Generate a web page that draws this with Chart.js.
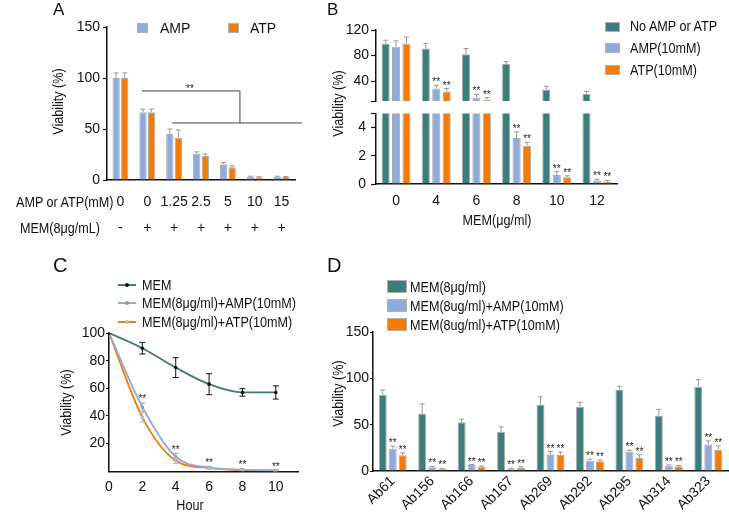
<!DOCTYPE html>
<html lang="en">
<head>
<meta charset="UTF-8">
<title>Viability panels A-D</title>
<script src="https://cdn.jsdelivr.net/npm/chart.js"></script>
<style>
  body { margin: 0; background: #fff; }
  #fig { position: relative; width: 729px; height: 512px; overflow: hidden; background: #fff;
         font-family: 'Liberation Sans', Arial, sans-serif; color: #111; }
  #fig canvas { position: absolute; }
  /* the figure text is narrow, squeeze it a bit */
  .t { position: absolute; white-space: nowrap; line-height: 1; font-size: 15px;
       transform: scaleX(0.84); transform-origin: left center; }
  .t.r { transform-origin: right center; }
  .t.c { transform-origin: center center; }
  .letter { transform: none; }
  .sq { position: absolute; box-sizing: border-box; border: 1px solid #b0b0b0; }
  .t.rot { transform: rotate(-90deg) scaleX(0.84); transform-origin: center center; text-align: center; width: 100px; }
  .ln { position: absolute; height: 2px; }
  .dot { position: absolute; width: 4px; height: 4px; border-radius: 50%; }
</style>
</head>
<body>
<div id="fig">
  <canvas id="cA" width="310" height="245" style="left:0;top:0"></canvas>
  <canvas id="cB1" width="399" height="112" style="left:330px;top:0"></canvas>
  <canvas id="cB2" width="399" height="135" style="left:330px;top:100px"></canvas>
  <canvas id="cC" width="330" height="262" style="left:0;top:250px"></canvas>
  <canvas id="cD" width="399" height="262" style="left:330px;top:250px"></canvas>

  <!-- panel A text -->
  <div class="t letter" style="left:53px;top:1px;font-size:17px">A</div>
  <div class="sq" style="left:137px;top:23px;width:11px;height:10px;background:#8faadc"></div>
  <div class="t" style="left:160px;top:21px;font-size:14px;transform:none">AMP</div>
  <div class="sq" style="left:228px;top:23px;width:11px;height:10px;background:#f47b06"></div>
  <div class="t" style="left:250px;top:21px;font-size:14px;transform:none">ATP</div>
  <div class="t rot" style="left:7px;top:94px">Viability (%)</div>
  <div class="t r" style="left:0;top:194px;width:100px;text-align:right">AMP or ATP(mM)</div>
  <div class="t r" style="left:0;top:220px;width:100px;text-align:right">MEM(8μg/mL)</div>

  <!-- panel B text -->
  <div class="t letter" style="left:327px;top:1px;font-size:17px">B</div>
  <div class="sq" style="left:605px;top:22px;width:15px;height:10px;background:#3e7e7a"></div>
  <div class="t" style="left:630px;top:18px">No AMP or ATP</div>
  <div class="sq" style="left:605px;top:43px;width:15px;height:10px;background:#8faadc"></div>
  <div class="t" style="left:630px;top:40px">AMP(10mM)</div>
  <div class="sq" style="left:605px;top:65px;width:15px;height:10px;background:#f47b06"></div>
  <div class="t" style="left:630px;top:62px">ATP(10mM)</div>
  <div class="t rot" style="left:287px;top:96px">Viability (%)</div>
  <div class="t c" style="left:447px;top:212px;width:100px;text-align:center">MEM(μg/ml)</div>

  <!-- panel C text -->
  <div class="t letter" style="left:53px;top:255px;font-size:20px">C</div>
  <div class="ln" style="left:118px;top:284px;width:18px;background:#3e7e7a"></div>
  <div class="dot" style="left:125px;top:283px;background:#111"></div>
  <div class="t" style="left:142px;top:277px">MEM</div>
  <div class="ln" style="left:118px;top:302px;width:18px;background:#8faadc"></div>
  <div class="dot" style="left:125px;top:301px;background:#999"></div>
  <div class="t" style="left:142px;top:295px">MEM(8μg/ml)+AMP(10mM)</div>
  <div class="ln" style="left:118px;top:321px;width:18px;background:#f47b06"></div>
  <div class="dot" style="left:125px;top:320px;background:#bbb"></div>
  <div class="t" style="left:142px;top:314px">MEM(8μg/ml)+ATP(10mM)</div>
  <div class="t rot" style="left:15px;top:395px">Viability (%)</div>
  <div class="t c" style="left:160px;top:497px;width:60px;text-align:center">Hour</div>

  <!-- panel D text -->
  <div class="t letter" style="left:327px;top:255px;font-size:20px">D</div>
  <div class="sq" style="left:387px;top:280px;width:20px;height:13px;background:#3e7e7a"></div>
  <div class="t" style="left:410px;top:279px">MEM(8μg/ml)</div>
  <div class="sq" style="left:387px;top:299px;width:20px;height:13px;background:#8faadc"></div>
  <div class="t" style="left:410px;top:298px">MEM(8ug/ml)+AMP(10mM)</div>
  <div class="sq" style="left:387px;top:318px;width:20px;height:13px;background:#f47b06"></div>
  <div class="t" style="left:410px;top:317px">MEM(8ug/ml)+ATP(10mM)</div>
  <div class="t rot" style="left:287px;top:386px">Viability (%)</div>
</div>

<script>
// ---- panel A data ----
const aDose = ['0', '0', '1.25', '2.5', '5', '10', '15'];
const aMem = ['-', '+', '+', '+', '+', '+', '+'];
const aAmp = [100, 66.5, 45, 26, 15.5, 3.2, 3.2];
const aAmpErr = [5, 3, 5, 1.6, 1.6, 0.5, 0.5];
const aAtp = [100, 66.5, 41.5, 23.5, 12.5, 2.7, 2.9];
const aAtpErr = [5, 3, 7.5, 2, 1.3, 0.5, 0.5];
const aYTicks = [0, 50, 100, 150];

// ---- panel B data ----
const bDose = ['0', '4', '6', '8', '10', '12'];
const bNone = [99, 91, 82, 67, 27, 20];
const bNoneErr = [5, 8, 9, 3.5, 5, 4];
const bAmp = [94, 28.5, 14.5, 3.26, 0.64, 0.24];
const bAmpErr = [9, 5, 5, 0.43, 0.24, 0.09];
const bAtp = [99, 24, 11, 2.71, 0.48, 0.17];
const bAtpErr = [10, 4.5, 3, 0.24, 0.1, 0.09];
const bStars = [0, 1, 1, 1, 1, 1];
const bUpperTicks = [40, 80, 120];
const bLowerTicks = [0, 2, 4];
const bUpperMin = 9, bLowerMax = 5;

// ---- panel C data ----
const cHours = [0, 2, 4, 6, 8, 10];
const cMem = [100, 89, 75, 63, 57, 57];
const cMemErr = [0, 4.2, 7.2, 7.6, 2.7, 4.8];
const cAmp = [100, 46.5, 10.5, 2.8, 1.2, 0.6];
const cAmpErr = [0, 3, 2.5, 0.8, 0.5, 0.3];
const cAtp = [100, 39, 7.7, 2.3, 0.8, 0.4];
const cAtpErr = [0, 3.5, 2, 0.7, 0.4, 0.2];
const cStars = [0, 1, 1, 1, 1, 1];
const cXTicks = [0, 2, 4, 6, 8, 10];
const cYTicks = [20, 40, 60, 80, 100];

// ---- panel D data ----
const dStrains = ['Ab61', 'Ab156', 'Ab166', 'Ab167', 'Ab269', 'Ab292', 'Ab295', 'Ab314', 'Ab323'];
const dMem = [82, 62, 52.5, 42, 71.5, 69, 88, 60, 91];
const dMemErr = [5.5, 10.5, 3.5, 5.5, 8.5, 5, 3.5, 6.5, 7.5];
const dAmp = [24, 4, 6.5, 2.5, 18, 11, 21, 5.8, 28.5];
const dAmpErr = [3, 1, 0.5, 0.5, 3, 1.8, 1.5, 0.8, 4];
const dAtp = [17, 2.5, 4.5, 3.5, 17.5, 10.5, 14, 5, 23];
const dAtpErr = [2.5, 0.5, 1, 1, 3, 1.5, 3.5, 1, 4];
const dStars = [1, 1, 1, 1, 1, 1, 1, 1, 1];
const dYTicks = [0, 50, 100, 150];

const TEAL = '#3e7e7a', BLUE = '#8faadc', ORANGE = '#f47b06';

Chart.defaults.font.family = "'Liberation Sans', Arial, sans-serif";
Chart.defaults.font.size = 14;
Chart.defaults.color = '#111';
Chart.defaults.animation = false;
Chart.defaults.responsive = false;
Chart.defaults.devicePixelRatio = 1;
Chart.defaults.plugins.legend.display = false;
Chart.defaults.plugins.tooltip.enabled = false;

// error bars + significance stars, read from dataset.errors / dataset.stars
const errorBars = {
  id: 'errorBars',
  afterDatasetsDraw(chart, args, opts) {
    const { ctx, chartArea: area, scales: { y } } = chart;
    ctx.save();
    ctx.beginPath();
    ctx.rect(area.left - 6, area.top - 25, area.right - area.left + 12, area.bottom - area.top + 25);
    ctx.clip();
    chart.data.datasets.forEach((ds, di) => {
      if (!ds.errors) return;
      chart.getDatasetMeta(di).data.forEach((el, i) => {
        const raw = ds.data[i];
        const v = typeof raw === 'object' ? raw.y : raw;
        const e = ds.errors[i];
        if (v < y.min || v > y.max) return;
        const top = y.getPixelForValue(v + e);
        const bot = ds.errBoth ? y.getPixelForValue(v - e) : el.y;
        const cw = ds.capHalf || 2.5;
        if (e > 0) {
          ctx.strokeStyle = ds.errColor || '#999';
          ctx.lineWidth = 1;
          ctx.beginPath();
          ctx.moveTo(el.x, top); ctx.lineTo(el.x, bot);
          ctx.moveTo(el.x - cw, top); ctx.lineTo(el.x + cw, top);
          if (ds.errBoth) { ctx.moveTo(el.x - cw, bot); ctx.lineTo(el.x + cw, bot); }
          ctx.stroke();
        }
        if (ds.stars && ds.stars[i]) {
          ctx.fillStyle = '#222';
          ctx.font = "10px 'Liberation Sans', sans-serif";
          ctx.textAlign = 'center';
          ctx.textBaseline = 'alphabetic';
          ctx.fillText('**', el.x, top + (opts.starShift || 0));
        }
      });
    });
    ctx.restore();
  }
};

// bracket lines of panel A, given in category index / value units
const sigLines = {
  id: 'sigLines',
  afterDatasetsDraw(chart, args, opts) {
    if (!opts.segments) return;
    const { ctx, scales: { x, y } } = chart;
    ctx.save();
    ctx.strokeStyle = '#444';
    ctx.lineWidth = 1;
    ctx.beginPath();
    opts.segments.forEach(s => {
      ctx.moveTo(x.getPixelForValue(s[0]), y.getPixelForValue(s[1]));
      ctx.lineTo(x.getPixelForValue(s[2]), y.getPixelForValue(s[3]));
    });
    ctx.stroke();
    ctx.fillStyle = '#222';
    ctx.font = "10px 'Liberation Sans', sans-serif";
    ctx.textAlign = 'center';
    ctx.textBaseline = 'alphabetic';
    ctx.fillText('**', x.getPixelForValue(opts.star[0]), y.getPixelForValue(opts.star[1]) + 1);
    ctx.restore();
  }
};

function yAxis(min, max, ticks, width, tickLen, pad, blank) {
  return {
    min: min, max: max,
    afterBuildTicks: s => { s.ticks = ticks.map(v => ({ value: v })); },
    afterFit: s => { s.width = width; },
    ticks: { padding: pad, font: { size: 14 }, callback: v => (blank !== undefined && v === blank) ? '' : String(v) },
    grid: { drawOnChartArea: false, tickLength: tickLen, color: '#111', tickWidth: 1.2 },
    border: { color: '#111', width: 1.5 }
  };
}

function bar(label, data, errors, color, stars) {
  return {
    label: label, data: data, errors: errors, stars: stars,
    backgroundColor: color, borderColor: '#ababab', borderWidth: 1,
    errColor: '#999'
  };
}

// ---- A ----
new Chart(document.getElementById('cA'), {
  type: 'bar',
  data: {
    labels: aDose.map((d, i) => [d, aMem[i]]),
    datasets: [
      Object.assign(bar('AMP', aAmp, aAmpErr, BLUE), { categoryPercentage: 0.64, barPercentage: 0.85 }),
      Object.assign(bar('ATP', aAtp, aAtpErr, ORANGE), { categoryPercentage: 0.64, barPercentage: 0.85 })
    ]
  },
  options: {
    layout: { padding: { top: 27, right: 15, left: 0, bottom: 0 } },
    scales: {
      x: {
        afterFit: s => { s.height = 65; },
        ticks: { padding: 9, autoSkip: false, maxRotation: 0, font: { size: 14, lineHeight: '26px' } },
        grid: { drawOnChartArea: false, drawTicks: false },
        border: { color: '#111', width: 1.5 }
      },
      y: yAxis(0, 150, aYTicks, 107, 4, 3)
    },
    plugins: {
      sigLines: {
        segments: [[0.8, 87.3, 4.45, 87.3], [4.45, 87.3, 4.45, 55.9], [1.92, 55.9, 6.76, 55.9]],
        star: [2.59, 87.3]
      }
    }
  },
  plugins: [errorBars, sigLines]
});

// ---- B (broken axis: upper + lower) ----
function bSets() {
  const o = { categoryPercentage: 0.78, barPercentage: 0.78 };
  return [
    Object.assign(bar('No AMP or ATP', bNone, bNoneErr, TEAL), o),
    Object.assign(bar('AMP(10mM)', bAmp, bAmpErr, BLUE, bStars), o),
    Object.assign(bar('ATP(10mM)', bAtp, bAtpErr, ORANGE, bStars), o)
  ];
}

new Chart(document.getElementById('cB1'), {
  type: 'bar',
  data: { labels: bDose, datasets: bSets() },
  options: {
    layout: { padding: { top: 30, right: 112, left: 0, bottom: 11 } },
    scales: {
      x: { display: false },
      y: yAxis(bUpperMin, 120, [bUpperMin].concat(bUpperTicks), 46, 5, 2, bUpperMin)
    }
  },
  plugins: [errorBars]
});

new Chart(document.getElementById('cB2'), {
  type: 'bar',
  data: { labels: bDose, datasets: bSets() },
  options: {
    layout: { padding: { top: 13, right: 112, left: 0, bottom: 0 } },
    scales: {
      x: {
        afterFit: s => { s.height = 51; },
        ticks: { padding: 9, maxRotation: 0, font: { size: 14 } },
        grid: { drawOnChartArea: false, drawTicks: false },
        border: { color: '#111', width: 1.5 }
      },
      y: yAxis(0, bLowerMax, bLowerTicks.concat([bLowerMax]), 46, 5, 5, bLowerMax)
    }
  },
  plugins: [errorBars]
});

// ---- C ----
function pts(ys) { return ys.map((v, i) => ({ x: cHours[i], y: v })); }
function line(label, ys, errs, color, ptColor, errColor, stars) {
  return {
    label: label, data: pts(ys), errors: errs, errBoth: true, stars: stars,
    borderColor: color, borderWidth: 1.8, cubicInterpolationMode: 'monotone',
    pointRadius: 1.8, pointBackgroundColor: ptColor, pointBorderColor: ptColor, pointBorderWidth: 0,
    errColor: errColor, capHalf: 3, fill: false
  };
}
new Chart(document.getElementById('cC'), {
  type: 'line',
  data: {
    datasets: [
      line('MEM', cMem, cMemErr, TEAL, '#111', '#111'),
      line('MEM(8μg/ml)+AMP(10mM)', cAmp, cAmpErr, BLUE, '#999', '#aaa', cStars),
      line('MEM(8μg/ml)+ATP(10mM)', cAtp, cAtpErr, ORANGE, '#bbb', '#bbb')
    ]
  },
  options: {
    layout: { padding: { top: 83, right: 32, left: 0, bottom: 0 } },
    scales: {
      x: {
        type: 'linear', min: 0, max: 11.33,
        afterBuildTicks: s => { s.ticks = cXTicks.map(v => ({ value: v })); },
        afterFit: s => { s.height = 40.7; },
        ticks: { padding: 7, maxRotation: 0, font: { size: 14 } },
        grid: { drawOnChartArea: false, drawTicks: false },
        border: { color: '#111', width: 1.5 }
      },
      y: yAxis(0, 100, cYTicks, 109, 3, 1)
    },
    plugins: { errorBars: { starShift: -0.5 } }
  },
  plugins: [errorBars]
});

// ---- D ----
new Chart(document.getElementById('cD'), {
  type: 'bar',
  data: {
    labels: dStrains,
    datasets: [
      Object.assign(bar('MEM(8μg/ml)', dMem, dMemErr, TEAL), { categoryPercentage: 0.76, barPercentage: 0.8 }),
      Object.assign(bar('MEM(8ug/ml)+AMP(10mM)', dAmp, dAmpErr, BLUE, dStars), { categoryPercentage: 0.76, barPercentage: 0.8 }),
      Object.assign(bar('MEM(8ug/ml)+ATP(10mM)', dAtp, dAtpErr, ORANGE, dStars), { categoryPercentage: 0.76, barPercentage: 0.8 })
    ]
  },
  options: {
    layout: { padding: { top: 82, right: 1, left: 0, bottom: 0 } },
    scales: {
      x: {
        afterFit: s => { s.height = 41; },
        ticks: { padding: 2, minRotation: 45, maxRotation: 45, autoSkip: false, font: { size: 14 } },
        grid: { drawOnChartArea: false, drawTicks: false },
        border: { color: '#111', width: 1.5 }
      },
      y: yAxis(0, 150, dYTicks, 43, 3, 1)
    }
  },
  plugins: [errorBars]
});
</script>
</body>
</html>
